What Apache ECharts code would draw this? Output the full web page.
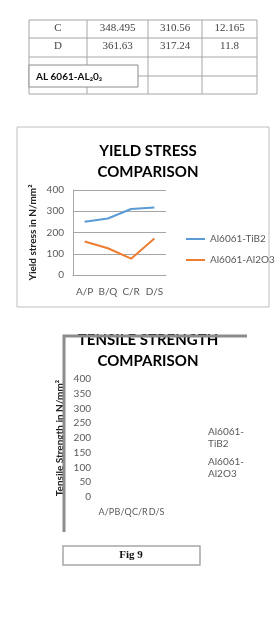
<!DOCTYPE html>
<html>
<head>
<meta charset="utf-8">
<script src="https://cdn.jsdelivr.net/npm/echarts@6/dist/echarts.min.js"></script>
<style>
  html, body { margin: 0; padding: 0; background: #fff; }
  #main { width: 280px; height: 620px; }
</style>
</head>
<body>
<div id="main"></div>
<script>
// table rows above the charts
var tableRows = [
  ['C', '348.495', '310.56', '12.165'],
  ['D', '361.63', '317.24', '11.8']
];
var tableLabel = 'AL 6061-AL₂0₃';

// yield stress chart
var categories = ['A/P', 'B/Q', 'C/R', 'D/S'];
var seriesNames = ['Al6061-TiB2', 'Al6061-Al2O3'];
var yieldTiB2 = [251, 266, 310.56, 317.24];
var yieldAl2O3 = [158, 126, 77, 172];
var yieldTicks = { min: 0, max: 400, interval: 100 };

// tensile chart (no lines drawn in the reference)
var tensileTiB2 = [];
var tensileAl2O3 = [];
var tensileTicks = { min: 0, max: 400, interval: 50 };

var FONT = 'Lato';
var GRID_LINE = '#a6a6a6';

var chart = echarts.init(document.getElementById('main'));

// table drawn as graphic elements
var colX = [29, 87, 148, 202, 257];
var rowY = [20, 38, 57, 76, 94];
var tableEls = [];
tableEls.push({ type: 'rect', shape: { x: colX[0], y: rowY[0], width: colX[4] - colX[0], height: rowY[4] - rowY[0] },
  style: { fill: '#fff', stroke: GRID_LINE, lineWidth: 1 } });
rowY.slice(1, 4).forEach(function (y) {
  tableEls.push({ type: 'line', shape: { x1: colX[0], y1: y, x2: colX[4], y2: y }, style: { stroke: GRID_LINE, lineWidth: 1 } });
});
colX.slice(1, 4).forEach(function (x) {
  tableEls.push({ type: 'line', shape: { x1: x, y1: rowY[0], x2: x, y2: rowY[4] }, style: { stroke: GRID_LINE, lineWidth: 1 } });
});
tableRows.forEach(function (row, r) {
  row.forEach(function (cell, c) {
    tableEls.push({ type: 'text', x: (colX[c] + colX[c + 1]) / 2, y: (rowY[r] + rowY[r + 1]) / 2 - 1,
      style: { text: cell, fill: '#444', font: '11px "Liberation Serif"', align: 'center', verticalAlign: 'middle' } });
  });
});
tableEls.push({ type: 'rect', shape: { x: 29, y: 65, width: 109, height: 22 },
  style: { fill: '#fff', stroke: '#8c8c8c', lineWidth: 1 } });
tableEls.push({ type: 'text', x: 36, y: 77,
  style: { text: tableLabel, fill: '#111', font: 'bold 10px ' + FONT, verticalAlign: 'middle' } });

var option = {
  animation: false,
  textStyle: { fontFamily: FONT },
  title: [
    { text: 'YIELD STRESS\nCOMPARISON', left: 143, top: 136, textAlign: 'center',
      textStyle: { fontSize: 15, fontWeight: 'bold', color: '#000', lineHeight: 21, fontFamily: FONT } },
    { text: 'TENSILE STRENGTH\nCOMPARISON', left: 143, top: 325, textAlign: 'center',
      textStyle: { fontSize: 15, fontWeight: 'bold', color: '#000', lineHeight: 21, fontFamily: FONT } }
  ],
  legend: [
    { orient: 'vertical', left: 181, top: 229, itemWidth: 19, itemHeight: 2, itemGap: 11, icon: 'rect',
      selectedMode: false, data: seriesNames,
      textStyle: { fontSize: 10, color: '#595959', fontFamily: FONT } },
    { orient: 'vertical', left: 197, top: 421, itemWidth: 0, itemHeight: 0, itemGap: 6,
      selectedMode: false, data: seriesNames,
      formatter: function (n) { return n.replace('-', '-\n'); },
      textStyle: { fontSize: 10, color: '#595959', lineHeight: 12, fontFamily: FONT } }
  ],
  grid: [
    { left: 73, top: 190, width: 93, height: 85 },
    { left: 98, top: 379, width: 67, height: 118 }
  ],
  xAxis: [
    { type: 'category', gridIndex: 0, data: categories, boundaryGap: true,
      axisLine: { lineStyle: { color: GRID_LINE } }, axisTick: { show: false },
      axisLabel: { fontSize: 10, color: '#595959', margin: 12, interval: 0 } },
    { type: 'category', gridIndex: 1, data: categories, boundaryGap: true,
      axisLine: { show: false }, axisTick: { show: false },
      axisLabel: { fontSize: 9, color: '#595959', margin: 11, interval: 0, hideOverlap: false } }
  ],
  yAxis: [
    { type: 'value', gridIndex: 0, min: yieldTicks.min, max: yieldTicks.max, interval: yieldTicks.interval,
      axisLine: { show: true, lineStyle: { color: GRID_LINE } }, axisTick: { show: false },
      splitLine: { lineStyle: { color: GRID_LINE } },
      axisLabel: { fontSize: 10, color: '#595959', margin: 9 },
      name: 'Yield stress in N/mm²', nameLocation: 'middle', nameGap: 35,
      nameTextStyle: { fontSize: 10, fontWeight: 'bold', color: '#222' } },
    { type: 'value', gridIndex: 1, min: tensileTicks.min, max: tensileTicks.max, interval: tensileTicks.interval,
      axisLine: { show: false }, axisTick: { show: false }, splitLine: { show: false },
      axisLabel: { fontSize: 10, color: '#595959', margin: 7 },
      name: 'Tensile Strength in N/mm²', nameLocation: 'middle', nameGap: 33,
      nameTextStyle: { fontSize: 10, fontWeight: 'bold', color: '#222' } }
  ],
  series: [
    { name: seriesNames[0], type: 'line', xAxisIndex: 0, yAxisIndex: 0, data: yieldTiB2,
      showSymbol: false, color: '#5b9bd5', lineStyle: { width: 2 } },
    { name: seriesNames[1], type: 'line', xAxisIndex: 0, yAxisIndex: 0, data: yieldAl2O3,
      showSymbol: false, color: '#ed7d31', lineStyle: { width: 2 } },
    { name: seriesNames[0], type: 'line', xAxisIndex: 1, yAxisIndex: 1, data: tensileTiB2,
      showSymbol: false, color: '#5b9bd5' },
    { name: seriesNames[1], type: 'line', xAxisIndex: 1, yAxisIndex: 1, data: tensileAl2O3,
      showSymbol: false, color: '#ed7d31' }
  ],
  graphic: tableEls.concat([
    // yield chart frame
    { type: 'rect', z: -10, shape: { x: 17, y: 127, width: 252, height: 180 },
      style: { fill: 'none', stroke: '#bfbfbf', lineWidth: 1 } },
    // clipped top of the tensile title
    { type: 'rect', z: 100, shape: { x: 60, y: 315, width: 200, height: 15 }, style: { fill: '#fff' } },
    // tensile chart frame (top and left edges only)
    { type: 'polyline', z: 100, shape: { points: [[64, 532], [64, 336], [247, 336]] },
      style: { stroke: '#8c8c8c', lineWidth: 3, fill: 'none' } },
    // figure caption
    { type: 'rect', shape: { x: 63, y: 546, width: 137, height: 19 },
      style: { fill: '#fff', stroke: GRID_LINE, lineWidth: 1.5 } },
    { type: 'text', x: 131, y: 555,
      style: { text: 'Fig 9', fill: '#111', font: 'bold 11px "Liberation Serif"', align: 'center', verticalAlign: 'middle' } }
  ])
};

chart.setOption(option);
</script>
</body>
</html>
